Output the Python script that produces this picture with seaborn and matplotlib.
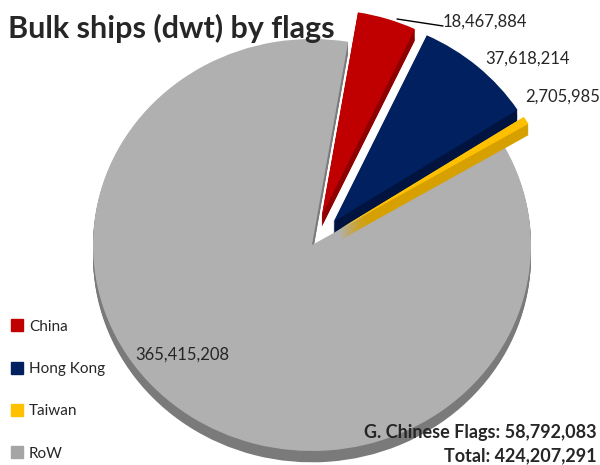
import matplotlib
matplotlib.use('Agg')
import matplotlib.pyplot as plt
from matplotlib.lines import Line2D
import seaborn as sns

flags = ['China', 'Hong Kong', 'Taiwan', 'RoW']
dwt = [18467884, 37618214, 2705985, 365415208]
flag_colors = ['#C00000', '#002060', '#FFC000', '#A5A5A5']
face_colors = ['#C00000', '#002060', '#FFC000', '#B0B0B0']
side_colors = ['#8E0000', '#00143F', '#D6A000', '#7A7A7A']
title = 'Bulk ships (dwt) by flags'

sns.set_theme(style='white')
plt.rcParams['font.family'] = ['Lato', 'DejaVu Sans']

W, H = 600, 465
fig = plt.figure(figsize=(6, 4.65), dpi=100)
ax = fig.add_axes([0, 0, 1, 1])

# ellipse centre and radii in pixels (pie is tilted a little)
cx, cy, rx, ry = 312, 245, 219, 206
explode = [0.15, 0.15, 0.15, 0.0]
depth = 0.055
steps = 10

# extrude the side of the 3d pie with stacked copies, then the top face over it
for k in range(1, steps + 1):
    sides, _ = ax.pie(dwt, colors=side_colors, explode=explode, startangle=80.5,
                      counterclock=False, center=(0, -depth * k / steps),
                      wedgeprops=dict(linewidth=0))
    for i, s in enumerate(sides):
        s.set_zorder(3 if explode[i] > 0 else 1)
tops, _ = ax.pie(dwt, colors=face_colors, explode=explode, startangle=80.5,
                 counterclock=False, wedgeprops=dict(linewidth=0))
# exploded slices sit in front of the rest of the pie
for i, t in enumerate(tops):
    t.set_zorder(4 if explode[i] > 0 else 2)
ax.set_aspect('auto')
ax.set_xlim(-cx / rx, (W - cx) / rx)
ax.set_ylim(-(H - cy) / ry, cy / ry)
ax.axis('off')


def px(x, y):
    return x / W, 1 - y / H


# value labels
fig.text(*px(443, 22), f'{dwt[0]:,}', ha='left', va='center', fontsize=12)
fig.text(*px(485, 59), f'{dwt[1]:,}', ha='left', va='center', fontsize=12)
fig.text(*px(525, 97), f'{dwt[2]:,}', ha='left', va='center', fontsize=12)
fig.text(*px(135, 355), f'{dwt[3]:,}', ha='left', va='center', fontsize=12)
fig.add_artist(Line2D([397 / W, 443 / W], [1 - 19 / H, 1 - 26 / H], color='black', lw=1))

fig.text(*px(8, 38), title, ha='left', va='baseline', fontsize=22, fontweight='bold')

handles = [Line2D([], [], marker='s', linestyle='', color=c, markersize=9) for c in flag_colors]
fig.legend(handles, flags, loc='lower left', bbox_to_anchor=(-0.008, -0.02), frameon=False,
           labelspacing=1.85, handletextpad=0.3, handlelength=1, fontsize=11)

g_chinese = sum(dwt[:3])
total = sum(dwt)
fig.text(*px(597, 432), f'G. Chinese Flags: {g_chinese:,}', ha='right', va='center',
         fontsize=13, fontweight='bold')
fig.text(*px(597, 456), f'Total: {total:,}', ha='right', va='center',
         fontsize=13, fontweight='bold')

fig.savefig('out.png', dpi=100)
